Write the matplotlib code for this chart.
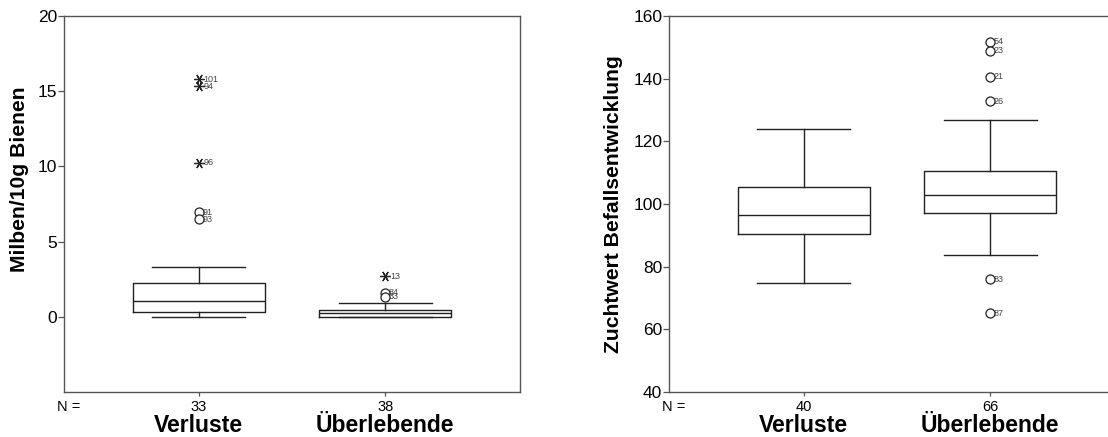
import matplotlib.pyplot as plt
from matplotlib.transforms import offset_copy

plt.rcParams['font.family'] = ['Liberation Sans', 'DejaVu Sans']

groups = ['Verluste', 'Überlebende']

# Milben/10g Bienen: box statistics per group
mites_n = [33, 38]
mites_whislo = [0.0, 0.0]
mites_q1 = [0.33, 0.02]
mites_med = [1.02, 0.25]
mites_q3 = [2.22, 0.47]
mites_whishi = [3.31, 0.95]
# outliers (circles) and extremes (stars): (group, value, case label)
mites_out = [(1, 6.95, '91'), (1, 6.5, '93'),
             (2, 1.6, '84'), (2, 1.35, '33')]
mites_ext = [(1, 15.8, '101'), (1, 15.35, '94'), (1, 10.25, '96'),
             (2, 2.69, '13')]

# Zuchtwert Befallsentwicklung
breed_n = [40, 66]
breed_whislo = [74.8, 83.8]
breed_q1 = [90.6, 97.0]
breed_med = [96.5, 102.9]
breed_q3 = [105.6, 110.6]
breed_whishi = [123.9, 126.9]
breed_out = [(2, 151.9, '54'), (2, 148.9, '23'), (2, 140.7, '21'),
             (2, 132.9, '26'), (2, 76.0, '83'), (2, 65.1, '87')]
breed_ext = []

LC = '#222222'
SC = '#555555'


def draw_panel(ax, n, whislo, q1, med, q3, whishi, outl, extr,
               ylim, yticks, ylabel, ylab_y, ylab_x):
    stats = []
    for i in range(len(groups)):
        stats.append(dict(whislo=whislo[i], q1=q1[i], med=med[i],
                          q3=q3[i], whishi=whishi[i], fliers=[]))
    lp = dict(color=LC, linewidth=1.0)
    ax.bxp(stats, positions=[1, 2], widths=0.71, showfliers=False,
           boxprops=lp, medianprops=lp, whiskerprops=lp,
           capprops=lp, capwidths=0.5, manage_ticks=False)

    for g, v, lab in outl:
        ax.plot(g, v, 'o', ms=6.5, mfc='white', mec=LC, mew=0.9, zorder=5)
        t = offset_copy(ax.transData, fig=ax.figure, x=2.5, y=0,
                        units='points')
        ax.text(g, v, lab, transform=t, fontsize=6.5, color='#444444',
                va='center', ha='left', zorder=4)
    for g, v, lab in extr:
        ax.plot(g, v, marker=(6, 2, 30), ms=7.5, color=LC, mew=0.9,
                linestyle='none', zorder=5)
        t = offset_copy(ax.transData, fig=ax.figure, x=3.5, y=0,
                        units='points')
        ax.text(g, v, lab, transform=t, fontsize=6.5, color='#444444',
                va='center', ha='left', zorder=4)

    ax.set_xlim(0.278, 2.722)
    ax.set_ylim(*ylim)
    ax.set_yticks(yticks)
    ax.tick_params(axis='y', labelsize=12.5, length=4, width=0.9,
                   color=SC, pad=1)
    ax.set_xticks([1, 2])
    ax.set_xticklabels([])
    ax.tick_params(axis='x', length=3, width=0.9, color=SC)
    for s in ax.spines.values():
        s.set_color(SC)
        s.set_linewidth(1.0)

    ax.set_ylabel(ylabel, fontsize=15.2, fontweight='bold')
    ax.yaxis.set_label_coords(ylab_x, ylab_y)

    tr = ax.get_xaxis_transform()
    ax.text(-0.016, -0.041, 'N =', transform=ax.transAxes, fontsize=10.5,
            ha='left', va='center')
    for i, g in enumerate(groups):
        ax.text(i + 1, -0.041, str(n[i]), transform=tr, fontsize=10.5,
                ha='center', va='center')
        ax.text(i + 1, -0.107, g, transform=tr, fontsize=16.5,
                fontweight='bold', ha='center', va='baseline')


fig = plt.figure(figsize=(11.08, 4.37), dpi=100)
ax1 = fig.add_axes([0.058, 0.103, 0.411, 0.860])
ax2 = fig.add_axes([0.604, 0.103, 0.411, 0.860])

draw_panel(ax1, mites_n, mites_whislo, mites_q1, mites_med, mites_q3,
           mites_whishi, mites_out, mites_ext, (-5, 20), [0, 5, 10, 15, 20],
           'Milben/10g Bienen', 0.566, -0.077)
draw_panel(ax2, breed_n, breed_whislo, breed_q1, breed_med, breed_q3,
           breed_whishi, breed_out, breed_ext, (40, 160),
           [40, 60, 80, 100, 120, 140, 160],
           'Zuchtwert Befallsentwicklung', 0.5, -0.101)
ax2.spines['right'].set_visible(False)

fig.savefig('out.png', dpi=100)
